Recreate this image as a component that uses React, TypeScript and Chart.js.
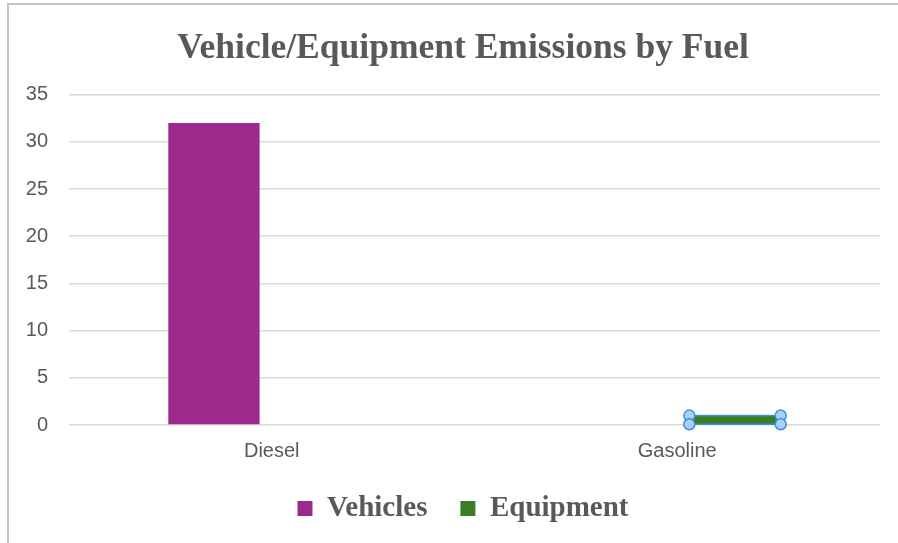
import React, { useEffect, useRef } from "react";
import { Chart, registerables } from "chart.js";

Chart.register(...registerables);

const categories = ["Diesel", "Gasoline"];
const vehicles = [32, 0];
const equipment = [0, 1];
const yTicks = [0, 5, 10, 15, 20, 25, 30, 35];

const selectionPlugin = {
  id: "selectionHandles",
  afterLayout(chart: any) {
    const shift = (box: any) => {
      if (!box) return;
      box.left = 46;
      box.right = 880;
      box.width = box.right - box.left;
    };
    shift(chart.titleBlock);
    shift(chart.legend);
  },
  afterDatasetsDraw(chart: any) {
    const meta = chart.getDatasetMeta(1);
    const el: any = meta.data[1];
    if (!el) return;
    const { x, y, width, base } = el.getProps(["x", "y", "width", "base"], true);
    const ctx = chart.ctx;
    const l = x - width / 2;
    const r = x + width / 2;
    ctx.save();
    ctx.strokeStyle = "#3d8fe0";
    ctx.lineWidth = 1.5;
    ctx.strokeRect(l, y, r - l, base - y);
    const pts = [
      [l, y],
      [r, y],
      [l, base],
      [r, base],
    ];
    for (const [px, py] of pts) {
      ctx.beginPath();
      ctx.arc(px, py, 5.5, 0, Math.PI * 2);
      ctx.fillStyle = "#a9d0f5";
      ctx.fill();
      ctx.strokeStyle = "#3d8fe0";
      ctx.lineWidth = 1.5;
      ctx.stroke();
    }
    ctx.restore();
  },
};

export default function App() {
  const ref = useRef<HTMLCanvasElement>(null);
  useEffect(() => {
    if (!ref.current) return;
    const chart = new Chart(ref.current, {
      type: "bar",
      data: {
        labels: categories,
        datasets: [
          {
            label: "Vehicles",
            data: vehicles,
            backgroundColor: "#9c2a8c",
            categoryPercentage: 0.57,
            barPercentage: 0.79,
          },
          {
            label: "Equipment",
            data: equipment,
            backgroundColor: "#3a7d23",
            categoryPercentage: 0.57,
            barPercentage: 0.79,
          },
        ],
      },
      options: {
        responsive: false,
        animation: false,
        layout: { padding: { left: 0, right: 18, top: 0, bottom: 10 } },
        plugins: {
          tooltip: { enabled: false },
          title: {
            display: true,
            text: "Vehicle/Equipment Emissions by Fuel",
            color: "#595959",
            font: { family: "'Liberation Serif', 'Times New Roman', serif", size: 35.5, weight: "bold" },
            padding: { top: 28, bottom: 24 },
          },
          legend: {
            position: "bottom",
            labels: {
              color: "#595959",
              font: { family: "'Liberation Serif', 'Times New Roman', serif", size: 29, weight: "bold" },
              boxWidth: 15,
              boxHeight: 15,
              padding: 33,
            },
          },
        },
        scales: {
          x: {
            grid: { display: false, drawTicks: false },
            border: { display: false },
            afterFit(scale: any) {
              scale.height = 36;
            },
            ticks: {
              color: "#595959",
              padding: 16,
              font: { family: "'Liberation Sans', Arial, sans-serif", size: 20, lineHeight: 1.0 },
            },
          },
          y: {
            min: 0,
            max: 35,
            afterBuildTicks(scale: any) {
              scale.ticks = yTicks.map((v) => ({ value: v }));
            },
            afterFit(scale: any) {
              scale.width = 69;
            },
            grid: { color: "#d9d9d9", lineWidth: 1.5, drawTicks: false },
            border: { display: false },
            ticks: {
              color: "#595959",
              padding: 21,
              font: { family: "'Liberation Sans', Arial, sans-serif", size: 20 },
            },
          },
        },
      },
      plugins: [selectionPlugin],
    } as any);
    return () => chart.destroy();
  }, []);
  return (
    <div style={{ position: "fixed", left: 0, top: 0, width: 898, height: 543, background: "#fff", overflow: "hidden" }}>
      <canvas ref={ref} width={898} height={543} style={{ position: "absolute", left: 0, top: 0, width: 898, height: 543 }} />
      <div
        style={{
          position: "absolute",
          left: 7,
          top: 3,
          width: 1000,
          height: 1000,
          borderTop: "2px solid #c4c4c4",
          borderLeft: "2px solid #c4c4c4",
          pointerEvents: "none",
        }}
      />
    </div>
  );
}
